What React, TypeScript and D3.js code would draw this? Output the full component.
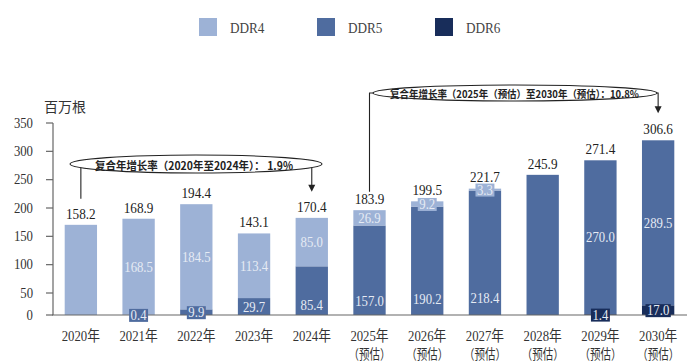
import * as React from "react";
import * as d3 from "d3";

const years = ["2020年", "2021年", "2022年", "2023年", "2024年", "2025年", "2026年", "2027年", "2028年", "2029年", "2030年"];
const isEstimate = [false, false, false, false, false, true, true, true, true, true, true];
const ddr4 = [158.2, 168.5, 184.5, 113.4, 85.0, 26.9, 9.2, 3.3, 0, 0, 0];
const ddr5 = [0, 0.4, 9.9, 29.7, 85.4, 157.0, 190.2, 218.4, 245.9, 270.0, 289.5];
const ddr6 = [0, 0, 0, 0, 0, 0, 0, 0, 0, 1.4, 17.0];
const totals = [158.2, 168.9, 194.4, 143.1, 170.4, 183.9, 199.5, 221.7, 245.9, 271.4, 306.6];
const yTicks = [0, 50, 100, 150, 200, 250, 300, 350];
const seriesNames = ["DDR4", "DDR5", "DDR6"];
const cagr1 = "复合年增长率（2020年至2024年）： 1.9%";
const cagr2 = "复合年增长率（2025年（预估）至2030年（预估）：10.8%";

const colors = { DDR4: "#9db2d6", DDR5: "#4f6c9f", DDR6: "#182d5a" };
const serif = "'Liberation Serif','Times New Roman','Noto Sans CJK SC',serif";
const cjk = "'Noto Sans CJK SC',sans-serif";
const K = 0.88;

const rows = years.map((y, i) => ({ year: y, DDR6: ddr6[i], DDR5: ddr5[i], DDR4: ddr4[i] }));
const stacked = d3.stack().keys(["DDR6", "DDR5", "DDR4"])(rows as any);

const base = 315;
const x = d3.scaleBand().domain(years).range([52, 687]).paddingInner(0.44).paddingOuter(0.22);
// bars and the printed axis in the source use slightly different scales
const yBar = d3.scaleLinear().domain([0, 350]).range([base, base - 199.5]);
const yAxis = d3.scaleLinear().domain([0, 50, 350]).range([base, 293, 123]);

const T = ({ x, y, k = K, children, ...rest }: any) => (
  <text transform={`translate(${x},${y}) scale(${k},1)`} fontFamily={serif} dominantBaseline="central" {...rest}>
    {children}
  </text>
);

const textW = (s: string, size: number) =>
  s.split("").reduce((a, c) => a + (c === "." ? 0.25 : 0.5), 0) * size * K;

export default function App() {
  const cx = (i: number) => (x(years[i]) as number) + x.bandwidth() / 2;
  const bw = x.bandwidth();
  const segLabels: any[] = [];
  stacked.forEach(layer => {
    const key = layer.key as "DDR4" | "DDR5" | "DDR6";
    layer.forEach((d, i) => {
      const v = d[1] - d[0];
      const nz = [ddr4[i], ddr5[i], ddr6[i]].filter(a => a > 0).length;
      if (v <= 0 || nz < 2) return;
      const y0 = yBar(d[0]);
      const y1 = yBar(d[1]);
      const px = y0 - y1;
      const label = v.toFixed(1);
      const boxed = px < 12;
      let ly = (y0 + y1) / 2;
      if (boxed) ly += 0.5;
      else if (key === "DDR5" && ddr4[i] > 0) ly = Math.max(ly, 309 - v * 0.05);
      segLabels.push({ key, i, label, ly, boxed });
    });
  });

  const arrow = (ax: number, tip: number) =>
    `M${ax - 3.5},${tip - 7}L${ax + 3.5},${tip - 7}L${ax},${tip}Z`;

  const a1L = cx(0), a1R = cx(4);
  const a1Top = yBar(totals[0]) - 26, a1Tip = yBar(totals[4]) - 26;
  const a2L = cx(5), a2R = cx(10);
  const a2Top = yBar(totals[5]) - 18.5, a2Tip = yBar(totals[10]) - 27;

  return (
    <svg width={698} height={364} style={{ position: "absolute", left: 0, top: 0, background: "#fff" }}>
      {/* legend */}
      {seriesNames.map((s, i) => (
        <g key={s} transform={`translate(${199 + i * 118},18)`}>
          <rect width={18} height={18} fill={colors[s as "DDR4"]} />
          <T x={31} y={9.5} fontSize={15} fill="#444">{s}</T>
        </g>
      ))}
      <text x={44} y={106} fontFamily={cjk} fontSize={14} fill="#333" dominantBaseline="central">百万根</text>

      {/* y axis */}
      <line x1={53} x2={53} y1={yAxis(350)} y2={base} stroke="#666" strokeWidth={1.2} />
      {yTicks.map(t => (
        <g key={t}>
          <line x1={46} x2={53} y1={yAxis(t)} y2={yAxis(t)} stroke="#666" strokeWidth={1.2} />
          <T x={33} y={yAxis(t)} fontSize={14.5} fill="#333" textAnchor="end">{t}</T>
        </g>
      ))}

      {/* bars */}
      {stacked.map(layer => (
        <g key={layer.key} fill={colors[layer.key as "DDR4"]}>
          {layer.map((d, i) =>
            d[1] - d[0] > 0 ? (
              <rect key={i} x={x(years[i])} width={bw} y={yBar(d[1])} height={yBar(d[0]) - yBar(d[1])} />
            ) : null
          )}
        </g>
      ))}
      <line x1={52} x2={687} y1={base} y2={base} stroke="#666" strokeWidth={1.2} />

      {/* segment labels */}
      {segLabels.map(s => {
        const w = Math.min(bw, textW(s.label, 14.5) + 3);
        return (
          <g key={s.key + s.i}>
            {s.boxed && (
              <rect x={cx(s.i) - w / 2} y={s.ly - 6.5} width={w} height={13} fill={colors[s.key as "DDR4"]} />
            )}
            <T x={cx(s.i)} y={s.ly} fontSize={14.5} fill="#e6ebf4" textAnchor="middle">{s.label}</T>
          </g>
        );
      })}

      {/* totals */}
      {totals.map((t, i) => (
        <T key={i} x={cx(i)} y={yBar(t) - 11.5} fontSize={15} fill="#222" textAnchor="middle">{t.toFixed(1)}</T>
      ))}

      {/* x labels */}
      {years.map((yr, i) => (
        <g key={yr}>
          <T x={cx(i)} y={336} fontSize={14.5} fill="#333" textAnchor="middle">{yr}</T>
          {isEstimate[i] && (
            <text x={cx(i)} y={353} fontFamily={cjk} fontSize={13.5} fill="#333" textAnchor="middle"
              dominantBaseline="central" textLength={42} lengthAdjust="spacingAndGlyphs">（预估）</text>
          )}
        </g>
      ))}

      {/* CAGR 2020-2024 */}
      <g stroke="#222" strokeWidth={1.1} fill="none">
        <line x1={a1L} x2={a1L} y1={164} y2={a1Top} />
        <line x1={a1R} x2={a1R} y1={164} y2={a1Tip - 6} />
      </g>
      <path d={arrow(a1R, a1Tip)} fill="#222" />
      <ellipse cx={196} cy={164} rx={126} ry={9} fill="#fff" stroke="#222" strokeWidth={1.1} />
      <text x={194} y={164.5} fontFamily={cjk} fontWeight="bold" fontSize={11} fill="#222" textAnchor="middle"
        dominantBaseline="central" textLength={198} lengthAdjust="spacingAndGlyphs">{cagr1}</text>

      {/* CAGR 2025-2030 */}
      <g stroke="#222" strokeWidth={1.1} fill="none">
        <polyline points={`${a2L},${a2Top} ${a2L},93 380,93`} />
        <polyline points={`650,93 ${a2R},93 ${a2R},${a2Tip - 6}`} />
      </g>
      <path d={arrow(a2R, a2Tip)} fill="#222" />
      <ellipse cx={515} cy={93} rx={142} ry={8} fill="#fff" stroke="#222" strokeWidth={1.1} />
      <text x={514.5} y={93.5} fontFamily={cjk} fontWeight="bold" fontSize={10.5} fill="#222" textAnchor="middle"
        dominantBaseline="central" textLength={249} lengthAdjust="spacingAndGlyphs">{cagr2}</text>
    </svg>
  );
}
